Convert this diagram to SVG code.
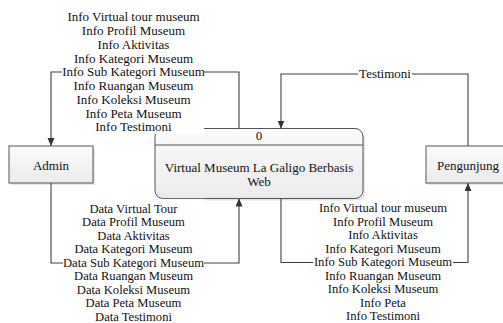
<svg xmlns="http://www.w3.org/2000/svg" width="503" height="323" viewBox="0 0 503 323">
<style>
text{font-family:"Liberation Serif","Times New Roman",serif;font-size:13px;fill:#111;text-anchor:middle}
text.sm{font-size:12.6px}
.box{fill:url(#g);stroke:#555;stroke-width:1}
.sh{fill:#000;opacity:0.1}
.ln{fill:none;stroke:#404040;stroke-width:1.1}
.bg{fill:#fff}
</style>
<defs>
<linearGradient id="g" x1="0" y1="0" x2="0" y2="1">
<stop offset="0" stop-color="#fbfbfb"/>
<stop offset="1" stop-color="#ebebeb"/>
</linearGradient>
<marker id="ah" markerUnits="userSpaceOnUse" markerWidth="9" markerHeight="8" refX="8" refY="3.5" orient="auto">
<path d="M0,0 L8,3.5 L0,7 z" fill="#333"/>
</marker>
</defs>
<g id="admin">
<rect class="sh" x="11" y="148" width="84" height="37"/>
<rect class="box" x="9" y="146" width="84" height="37"/>
<text x="51" y="169.5">Admin</text>
</g>
<g id="pengunjung">
<rect class="sh" x="428" y="148" width="84" height="37"/>
<rect class="box" x="426" y="146" width="84" height="37"/>
<text x="468" y="169.5">Pengunjung</text>
</g>
<g id="process">
<rect class="sh" x="157" y="130.5" width="208" height="70" rx="8"/>
<rect class="box" x="155" y="128.5" width="208" height="70" rx="8"/>
<line x1="155" y1="145" x2="363" y2="145" stroke="#555" stroke-width="1"/>
<text x="259" y="139.5">0</text>
<text x="259" y="171.5">Virtual Museum La Galigo Berbasis</text>
<text x="259" y="185.5">Web</text>
</g>
<g id="connectors">
<path class="ln" d="M239,128.5 V72 H51 V146" marker-end="url(#ah)"/>
<path class="ln" d="M51,183 V263 H239 V198.5" marker-end="url(#ah)"/>
<path class="ln" d="M281,198.5 V262.5 H468 V183" marker-end="url(#ah)"/>
<path class="ln" d="M468,146 V74 H281 V128.5" marker-end="url(#ah)"/>
<rect class="bg" x="62" y="9" width="142" height="125"/>
<text x="133.5" y="21.3"><tspan x="133.5">Info Virtual tour museum</tspan><tspan x="133.5" dy="13.75">Info Profil Museum</tspan><tspan x="133.5" dy="13.75">Info Aktivitas</tspan><tspan x="133.5" dy="13.75">Info Kategori Museum</tspan><tspan x="133.5" dy="13.75">Info Sub Kategori Museum</tspan><tspan x="133.5" dy="13.75">Info Ruangan Museum</tspan><tspan x="133.5" dy="13.75">Info Koleksi Museum</tspan><tspan x="133.5" dy="13.75">Info Peta Museum</tspan><tspan x="133.5" dy="13.75">Info Testimoni</tspan></text>
<rect class="bg" x="63" y="198.9" width="141" height="125"/>
<text class="sm" x="133.5" y="212.6"><tspan x="133.5">Data Virtual Tour</tspan><tspan x="133.5" dy="13.5">Data Profil Museum</tspan><tspan x="133.5" dy="13.5">Data Aktivitas</tspan><tspan x="133.5" dy="13.5">Data Kategori Museum</tspan><tspan x="133.5" dy="13.5">Data Sub Kategori Museum</tspan><tspan x="133.5" dy="13.5">Data Ruangan Museum</tspan><tspan x="133.5" dy="13.5">Data Koleksi Museum</tspan><tspan x="133.5" dy="13.5">Data Peta Museum</tspan><tspan x="133.5" dy="13.5">Data Testimoni</tspan></text>
<rect class="bg" x="313" y="201" width="140" height="122"/>
<text class="sm" x="383" y="212.3"><tspan x="383">Info Virtual tour museum</tspan><tspan x="383" dy="13.5">Info Profil Museum</tspan><tspan x="383" dy="13.5">Info Aktivitas</tspan><tspan x="383" dy="13.5">Info Kategori Museum</tspan><tspan x="383" dy="13.5">Info Sub Kategori Museum</tspan><tspan x="383" dy="13.5">Info Ruangan Museum</tspan><tspan x="383" dy="13.5">Info Koleksi Museum</tspan><tspan x="383" dy="13.5">Info Peta</tspan><tspan x="383" dy="13.5">Info Testimoni</tspan></text>
<rect class="bg" x="358" y="67" width="54" height="14"/>
<text x="385" y="78.3">Testimoni</text>
</g>
</svg>
